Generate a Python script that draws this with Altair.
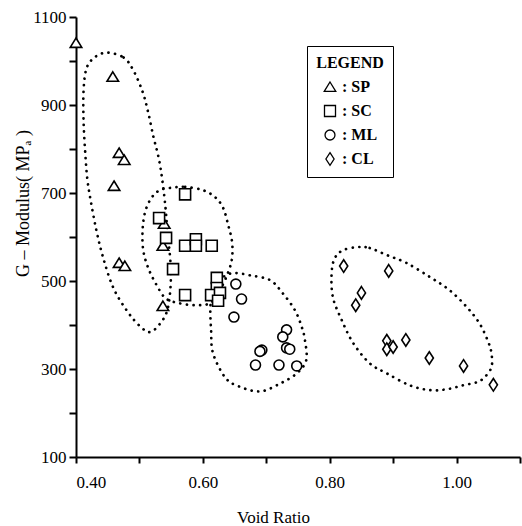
import altair as alt
import pandas as pd

# ---- data ----
types = ["SP", "SC", "ML", "CL"]

sp_x = [0.400, 0.458, 0.468, 0.476, 0.460, 0.468, 0.477, 0.539, 0.537, 0.537]
sp_y = [1041, 964, 791, 775, 716, 541, 534, 630, 580, 443]

sc_x = [0.572, 0.531, 0.542, 0.572, 0.589, 0.589, 0.614, 0.553, 0.572, 0.622, 0.622, 0.613, 0.627, 0.624]
sc_y = [697, 643, 598, 580, 595, 580, 580, 527, 468, 507, 484, 468, 473, 455]

ml_x = [0.652, 0.661, 0.649, 0.732, 0.726, 0.693, 0.690, 0.732, 0.737, 0.683, 0.720, 0.748]
ml_y = [493, 459, 418, 389, 373, 343, 340, 348, 345, 309, 309, 307]

cl_x = [0.822, 0.893, 0.850, 0.841, 0.890, 0.890, 0.900, 0.920, 0.957, 1.011, 1.058]
cl_y = [534, 523, 473, 445, 364, 345, 350, 366, 325, 307, 264]

# hand-drawn dotted enclosures (data coordinates)
loop_sp_x = [0.450, 0.475, 0.490, 0.505, 0.514, 0.522, 0.530, 0.536, 0.541, 0.544, 0.549, 0.549, 0.544,
             0.533, 0.517, 0.501, 0.481, 0.459, 0.443, 0.432, 0.423, 0.418, 0.415, 0.412, 0.412, 0.417, 0.431]
loop_sp_y = [1019, 1008, 980, 930, 882, 828, 782, 730, 668, 616, 541, 486, 434,
             404, 384, 397, 431, 484, 552, 616, 684, 730, 782, 860, 935, 985, 1010]

loop_sc_x = [0.552, 0.572, 0.599, 0.619, 0.632, 0.640, 0.646, 0.646, 0.640, 0.627, 0.612, 0.588, 0.561,
             0.541, 0.527, 0.514, 0.506, 0.505, 0.509, 0.519, 0.533]
loop_sc_y = [712, 714, 707, 691, 666, 627, 589, 552, 520, 479, 450, 445, 450,
             461, 491, 529, 570, 616, 657, 689, 707]

loop_ml_x = [0.648, 0.674, 0.706, 0.726, 0.745, 0.756, 0.761, 0.763, 0.748, 0.722, 0.690, 0.656,
             0.635, 0.616, 0.613, 0.612, 0.618, 0.630]
loop_ml_y = [518, 513, 502, 472, 434, 395, 365, 320, 290, 267, 249, 261,
             281, 336, 388, 445, 484, 507]

loop_cl_x = [0.844, 0.863, 0.890, 0.921, 0.958, 0.989, 1.016, 1.036, 1.049, 1.055, 1.055, 1.044, 1.032,
             1.010, 0.985, 0.958, 0.926, 0.890, 0.863, 0.837, 0.819, 0.805, 0.803, 0.808, 0.821]
loop_cl_y = [577, 575, 559, 541, 509, 479, 441, 404, 365, 336, 304, 281, 270,
             263, 254, 252, 263, 290, 313, 359, 411, 463, 518, 552, 570]

x_ticks = [0.4, 0.5, 0.6, 0.7, 0.8, 0.9, 1.0, 1.1]
y_ticks = [100, 200, 300, 400, 500, 600, 700, 800, 900, 1000, 1100]

# ---- tables ----
pts = pd.concat([
    pd.DataFrame({"x": sp_x, "y": sp_y, "type": "SP"}),
    pd.DataFrame({"x": sc_x, "y": sc_y, "type": "SC"}),
    pd.DataFrame({"x": ml_x, "y": ml_y, "type": "ML"}),
    pd.DataFrame({"x": cl_x, "y": cl_y, "type": "CL"}),
], ignore_index=True)

loops = []
for name, lx, ly in [("SP", loop_sp_x, loop_sp_y), ("SC", loop_sc_x, loop_sc_y),
                     ("ML", loop_ml_x, loop_ml_y), ("CL", loop_cl_x, loop_cl_y)]:
    loops.append(pd.DataFrame({"x": lx, "y": ly, "loop": name, "i": range(len(lx))}))
loops = pd.concat(loops, ignore_index=True)

FONT = "Liberation Serif"

xs = alt.Scale(domain=[0.4, 1.1], nice=False, zero=False)
ys = alt.Scale(domain=[100, 1100], nice=False, zero=False)

x_axis = alt.Axis(
    values=x_ticks, grid=False,
    labelExpr="(round(datum.value*10)%2==0 && datum.value<1.05) ? format(datum.value,'.2f') : ''",
    tickSize=6, tickWidth=2, domainWidth=2, domainColor="black", tickColor="black",
    labelFont=FONT, labelFontSize=17, labelColor="black", labelPadding=11,
    title="Void Ratio", titleFont=FONT, titleFontSize=17, titleFontWeight="normal",
    titleColor="black", titleX=197, titleY=52, titleBaseline="top", titleAnchor="middle",
)
y_axis = alt.Axis(
    values=y_ticks, grid=False,
    labelExpr="(round(datum.value/100)%2==1) ? format(datum.value,'d') : ''",
    tickSize=7, tickWidth=2, domainWidth=2, domainColor="black", tickColor="black",
    labelFont=FONT, labelFontSize=17, labelColor="black", labelPadding=3,
    title="G – Modulus( MPₐ )", titleFont=FONT, titleFontSize=18, titleFontWeight="normal",
    titleColor="black", titleX=-44, titleY=186, titleAnchor="middle", titleAngle=270,
    titleBaseline="bottom",
)

loop_layer = alt.Chart(loops).mark_line(
    interpolate="cardinal-closed", color="black", strokeWidth=2.7,
    strokeDash=[0.1, 6.5], strokeCap="round",
).encode(
    x=alt.X("x:Q", scale=xs, axis=x_axis),
    y=alt.Y("y:Q", scale=ys, axis=y_axis),
    detail="loop:N",
    order="i:Q",
)

tri = "M0,-0.95L1.1,0.85L-1.1,0.85Z"
sq = "M-1.05,-1.05H1.05V1.05H-1.05Z"
circ = "M-0.95,0A0.95,0.95 0 1,0 0.95,0A0.95,0.95 0 1,0 -0.95,0Z"
diamond = "M0,-1.2L0.78,0L0,1.2L-0.78,0Z"

point_layer = alt.Chart(pts).mark_point(
    filled=True, fill="white", stroke="black", strokeWidth=1.6, size=110, opacity=1,
).encode(
    x=alt.X("x:Q", scale=xs),
    y=alt.Y("y:Q", scale=ys),
    shape=alt.Shape(
        "type:N",
        scale=alt.Scale(domain=types, range=[tri, sq, circ, diamond]),
        legend=alt.Legend(
            title="LEGEND", orient="none", legendX=231, legendY=29,
            strokeColor="black", fillColor="white", padding=9,
            titleFont=FONT, titleFontSize=16, titleFontWeight="bold", titleColor="black",
            titleAnchor="middle", titlePadding=8,
            labelFont=FONT, labelFontSize=16, labelFontWeight="bold", labelColor="black",
            labelExpr="': ' + datum.label",
            symbolSize=110, rowPadding=7, symbolStrokeWidth=1.3,
        ),
    ),
)

chart = alt.layer(loop_layer, point_layer).properties(
    width=444, height=440,
    padding={"left": 76, "top": 17, "right": 2, "bottom": 69},
    autosize="none",
    background="white",
).configure_view(stroke=None)

chart.save("out.html", embed_options={"renderer": "svg", "actions": False})
